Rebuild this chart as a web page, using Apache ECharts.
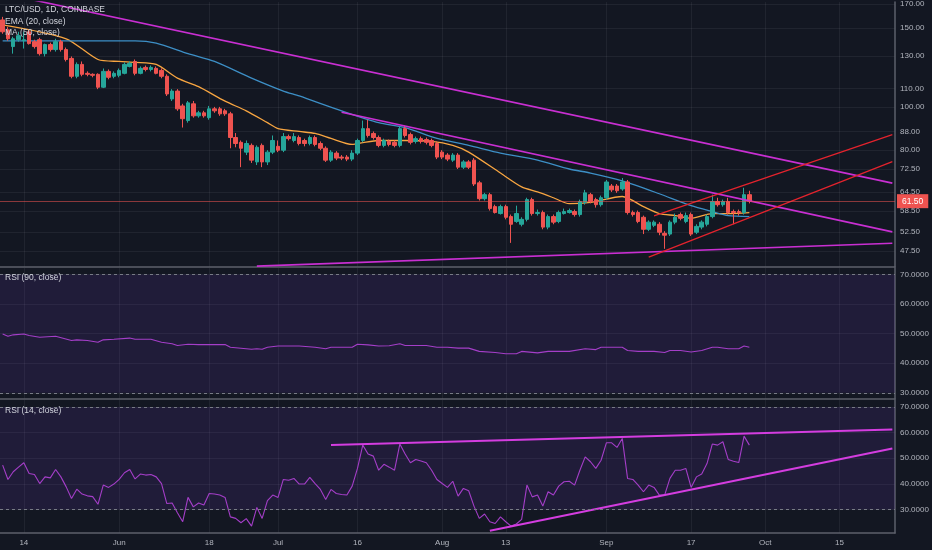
<!DOCTYPE html>
<html><head><meta charset="utf-8">
<script src="https://cdn.jsdelivr.net/npm/echarts@6/dist/echarts.min.js"></script>
<style>html,body{margin:0;padding:0;background:#131722}#c{width:932px;height:550px}</style>
</head><body><div id="c"></div>
<script>
// ---- data ----
const startDate = '2018-05-10';
const dayCount = 169;
const tickDates = ['2018-05-14','2018-06-01','2018-06-18','2018-07-01','2018-07-16','2018-08-01','2018-08-13','2018-09-01','2018-09-17','2018-10-01','2018-10-15'];
const tickNames = ['14','Jun','18','Jul','16','Aug','13','Sep','17','Oct','15'];
const priceTicks = [47.5,52.5,58.5,64.5,72.5,80,88,100,110,130,150,170];
const rsiTicks = [30,40,50,60,70];

const open = [156.6,148.8,136.5,141.4,140.7,147.3,140.0,141.4,131.6,137.9,
134.4,140.0,134.4,128.4,117.1,124.5,118.9,118.3,118.3,110.7,
120.1,117.1,117.7,118.9,123.2,126.4,118.9,122.6,121.3,122.0,
120.7,117.1,104.2,108.5,100.5,93.2,101.6,95.5,97.0,94.6,
99.0,99.0,98.0,96.5,85.4,83.3,79.2,82.0,75.3,82.0,
75.3,79.2,81.6,80.0,85.8,84.1,85.4,84.1,82.8,85.4,
82.8,80.8,76.0,78.8,77.2,77.2,76.4,78.8,84.1,89.4,
87.2,85.4,82.0,83.7,83.3,82.0,89.4,86.7,83.7,84.9,
84.5,84.1,82.8,79.2,78.0,76.0,78.0,73.3,75.3,76.0,
67.6,62.3,63.6,59.8,57.7,59.8,56.8,55.4,54.6,56.0,
62.0,57.7,58.0,53.8,56.8,55.4,57.7,58.0,58.3,57.4,
61.1,63.6,62.0,60.4,62.6,66.5,66.5,65.5,67.9,58.0,
58.0,56.6,53.2,54.3,54.6,52.1,51.9,55.2,57.4,55.4,
57.4,52.4,53.8,54.6,56.8,61.4,60.4,61.4,58.3,58.3,
58.0,63.6];
const close = [147.3,142.1,142.1,144.4,141.4,138.6,136.5,131.6,137.9,134.4,
140.0,134.4,127.7,117.1,124.5,118.3,118.3,117.7,110.7,120.1,
116.5,118.9,120.7,124.5,125.2,118.9,122.0,121.3,122.6,118.9,
117.1,106.9,108.5,99.0,94.1,102.1,95.5,97.0,95.5,99.0,
98.0,96.5,96.5,85.4,82.8,80.8,82.8,76.0,81.2,75.3,
79.2,84.1,80.0,85.8,84.9,85.8,82.8,82.8,85.4,82.4,
80.8,76.0,79.2,76.8,76.8,76.4,78.8,84.1,89.4,86.3,
85.4,82.0,84.1,82.4,82.0,89.4,86.3,83.3,84.9,83.7,
83.3,82.0,77.2,77.2,76.4,78.0,73.3,75.3,73.3,67.2,
62.3,63.6,59.2,58.0,59.8,56.6,54.6,57.7,56.0,62.0,
57.7,58.0,53.8,56.8,55.2,58.0,58.3,58.6,57.4,61.4,
64.2,61.4,60.4,62.6,67.9,65.2,64.9,67.9,58.0,57.4,
55.4,53.2,55.2,55.2,52.4,51.6,55.2,56.6,56.3,57.1,
51.9,54.0,55.2,56.8,61.4,60.4,61.4,58.0,58.0,58.0,
63.6,61.5];
const high = [159.1,151.1,143.6,147.3,147.3,148.8,141.4,142.8,138.6,139.3,
142.1,141.4,135.8,129.7,125.8,126.4,120.1,118.9,118.9,121.9,
121.3,120.1,121.9,125.8,126.4,127.7,123.2,123.8,123.8,123.2,
122.0,118.3,109.6,109.6,101.6,103.1,103.1,98.0,98.0,100.5,
100.0,100.0,99.0,97.5,87.4,84.1,84.1,82.8,82.0,82.8,
80.0,86.3,84.1,87.4,86.7,87.4,86.3,84.9,86.3,86.3,
83.7,81.6,80.0,79.6,78.0,78.0,80.0,84.9,93.2,93.6,
88.1,86.3,84.9,84.5,84.1,90.3,90.8,87.6,85.8,85.8,
85.4,84.9,83.7,80.0,78.8,78.8,78.8,76.0,76.0,76.8,
68.3,64.2,64.2,60.4,60.4,60.4,57.4,60.1,56.6,62.6,
62.6,58.9,58.6,57.4,57.4,58.6,59.2,59.2,58.9,62.0,
65.2,64.2,62.6,63.3,68.6,67.2,67.2,69.3,68.6,58.6,
58.6,57.1,55.7,55.7,55.2,52.7,55.7,57.7,58.0,58.0,
58.0,54.6,55.7,57.4,63.6,62.6,62.0,62.6,58.9,58.9,
65.9,64.9];
const low = [145.8,140.7,131.6,140.0,135.1,137.9,135.1,130.3,129.7,133.0,
133.0,133.0,126.4,115.9,115.9,117.1,117.1,116.5,109.6,110.2,
115.3,115.9,116.5,118.3,122.6,117.7,118.3,120.1,120.1,118.3,
115.9,105.8,103.1,98.0,89.9,92.2,94.6,94.6,94.6,93.6,
97.0,95.5,95.5,80.8,81.2,73.3,78.0,74.9,74.1,73.3,
74.1,78.4,79.2,79.2,84.1,83.3,82.0,81.6,82.0,81.6,
80.0,75.3,75.3,76.0,76.0,75.6,75.6,78.0,83.3,85.4,
84.5,81.2,81.2,81.6,81.2,81.2,85.4,82.4,82.8,82.8,
82.4,81.2,76.4,76.4,75.6,75.3,72.6,72.6,72.6,66.5,
61.7,61.7,58.6,57.7,57.4,56.0,49.6,55.0,54.0,55.4,
57.1,57.1,53.2,53.2,54.6,54.9,57.4,57.7,56.8,56.8,
60.4,60.8,59.5,59.8,62.0,64.5,64.2,64.9,57.4,56.8,
54.9,51.9,52.7,53.8,51.6,48.1,51.4,54.6,55.7,54.9,
51.4,51.9,53.2,54.0,56.3,59.8,59.8,57.4,54.6,57.1,
57.4,60.8];

const ema20 = [[0,152.6],[12,142.1],[18,127.7],[22,126.4],[25,125.8],[29,124.5],[33,116.0],[37,111.0],[42,103.0],[46,98.0],[50,92.2],[52,89.4],[56,88.1],[59,87.2],[62,85.0],[66,82.4],[68,83.2],[71,84.1],[76,84.1],[81,83.7],[85,82.0],[88,79.2],[94,71.1],[98,66.2],[101,64.5],[104,62.6],[107,60.7],[111,61.1],[117,63.0],[121,59.8],[124,57.7],[127,57.1],[130,56.3],[134,57.7],[137,57.7],[141,58.0]];
const ma50 = [[0,140.6],[9,140.6],[25,140.6],[29,138.9],[35,131.6],[40,126.4],[47,116.0],[53,108.5],[56,105.8],[64,98.0],[71,92.2],[76,89.9],[82,85.0],[88,82.0],[94,78.8],[101,76.0],[107,72.6],[111,71.1],[117,68.3],[124,63.9],[130,60.1],[134,58.3],[137,57.1],[141,56.8]];

const rsi90 = [[0,49.9],[1,49.1],[2,49.6],[4,49.9],[5,49.4],[7,48.8],[10,49.1],[13,47.7],[14,47.9],[16,47.7],[18,47.1],[19,47.9],[21,48.1],[24,48.5],[25,48.1],[28,48.1],[30,47.1],[32,46.6],[33,46.0],[35,46.4],[37,46.3],[40,46.3],[42,46.3],[43,45.4],[47,44.7],[48,44.9],[49,44.7],[50,45.4],[52,45.8],[56,45.8],[59,45.4],[61,44.9],[62,45.4],[66,45.4],[67,46.4],[69,46.2],[71,45.8],[73,45.9],[75,46.6],[76,46.0],[80,46.0],[82,45.4],[84,45.4],[86,45.1],[88,45.1],[90,44.0],[93,43.6],[95,43.2],[97,43.2],[98,44.0],[101,43.5],[103,44.0],[107,44.0],[110,44.9],[112,44.6],[113,45.4],[117,45.4],[118,44.3],[120,44.0],[123,44.0],[125,43.6],[126,44.3],[128,44.3],[130,43.8],[132,44.3],[134,45.4],[135,45.4],[137,44.9],[139,44.9],[140,45.8],[141,45.4]];

const rsi14 = [47.3,41.7,44.7,46.5,48.2,44.0,43.6,40.1,42.7,42.3,
45.6,42.7,38.8,34.3,37.9,36.0,35.3,35.0,32.0,39.5,
38.6,39.9,41.7,44.3,45.6,41.9,43.8,43.4,43.6,42.7,
40.1,32.3,32.5,28.7,25.2,34.7,31.0,32.5,31.7,36.2,
36.0,35.6,34.7,27.1,26.5,24.8,26.4,23.5,30.8,26.5,
33.4,35.6,34.7,41.7,41.4,42.1,39.9,39.9,42.5,40.1,
37.8,33.9,37.8,36.2,35.8,35.6,39.1,46.0,55.1,51.6,
50.8,45.3,47.6,46.5,45.3,55.5,51.6,48.2,49.5,48.9,
48.2,45.3,41.7,40.1,38.6,41.0,35.2,38.2,37.3,31.3,
26.5,28.2,25.2,24.5,27.1,25.2,23.5,24.3,26.1,39.5,
34.9,35.6,31.3,36.9,35.6,39.1,40.8,41.0,39.5,45.3,
50.5,48.6,46.0,49.2,56.0,56.0,54.2,57.7,42.1,41.7,
39.5,36.9,39.5,38.6,35.6,35.6,42.1,45.3,45.3,46.0,
38.6,42.7,43.8,47.9,55.5,55.1,56.4,49.5,48.8,48.3,
58.6,55.1];

// drawn trend lines (start/end point as [day index, value])
const lineTop = [[0,179.5],[168,67.5]];
const lineDesc = [[64,97.3],[168,52.5]];
const lineSupport = [[48,44.0],[168,49.5]];
const chanLow = [[122,46.1],[168,75.4]];
const chanUp = [[123,57.0],[168,86.7]];
const rsiUp = [[62,55.1],[168,61.2]];
const rsiLow = [[92,21.7],[168,53.8]];
const lastPrice = 61.5;

// ---- build ----
const cats = [];
const t0 = Date.parse(startDate + 'T00:00:00Z');
for (let i = 0; i < dayCount; i++) cats.push(new Date(t0 + i * 86400000).toISOString().slice(0, 10));
const candles = open.map((o, i) => [o, close[i], low[i], high[i]]);
const toCat = arr => arr.map(p => [cats[p[0]], p[1]]);
const isTick = (idx, val) => tickDates.indexOf(val) >= 0;

const FONT = 'Liberation Sans';
const txt = '#b2b5be';
const gridCol = 'rgba(255,255,255,0.06)';
const sepCol = '#5d606b';
const magenta = '#c92fd2';

function xAx(i, showLabel) {
  return {
    type: 'category', gridIndex: i, data: cats, boundaryGap: true,
    axisLine: { show: true, lineStyle: { color: sepCol, width: 1.5 } },
    axisTick: { show: false, interval: isTick, alignWithLabel: true },
    axisLabel: { show: showLabel, interval: isTick, color: txt, fontSize: 8, fontFamily: FONT, margin: 6,
      formatter: v => tickNames[tickDates.indexOf(v)] },
    splitLine: { show: true, interval: isTick, alignWithLabel: true, lineStyle: { color: gridCol, width: 1 } }
  };
}
function yRsi(i, mn, mx) {
  return {
    type: 'value', gridIndex: i, position: 'right', min: mn, max: mx,
    axisLine: { show: true, lineStyle: { color: sepCol, width: 1.5 } },
    axisTick: { show: false, customValues: rsiTicks },
    axisLabel: { customValues: rsiTicks, color: txt, fontSize: 8, fontFamily: FONT, margin: 5, formatter: v => v.toFixed(4) },
    splitLine: { show: true, lineStyle: { color: gridCol } }
  };
}
const band = {
  silent: true,
  itemStyle: { color: 'rgba(103,58,183,0.16)' },
  data: [[{ yAxis: 30 }, { yAxis: 70 }]]
};
const dashes = {
  silent: true, symbol: 'none',
  lineStyle: { type: [3, 3], color: '#787b86', width: 1 },
  label: { show: false },
  data: [{ yAxis: 30 }, { yAxis: 70 }]
};
function trend(data, xi, color, width) {
  return { type: 'line', xAxisIndex: xi, yAxisIndex: xi, data: toCat(data), symbol: 'none',
    lineStyle: { color: color, width: width }, silent: true, z: 4 };
}

const ttl = (text, top) => ({ text, left: 5, top, padding: 0,
  textStyle: { color: '#d1d4dc', fontSize: 8.5, fontWeight: 'normal', fontFamily: FONT } });

const chart = echarts.init(document.getElementById('c'), null, { renderer: 'canvas' });
chart.setOption({
  backgroundColor: '#131722',
  animation: false,
  title: [ttl('LTC/USD, 1D, COINBASE', 5.5), ttl('EMA (20, close)', 17), ttl('MA (50, close)', 28.5),
          ttl('RSI (90, close)', 273), ttl('RSI (14, close)', 406.5)],
  grid: [
    { left: 0, top: 0, width: 895, height: 267 },
    { left: 0, top: 268, width: 895, height: 131 },
    { left: 0, top: 400, width: 895, height: 133 }
  ],
  xAxis: [xAx(0, false), xAx(1, false), xAx(2, true)],
  yAxis: [
    { type: 'log', logBase: 10, gridIndex: 0, position: 'right', min: 43.8, max: 171.7,
      axisLine: { show: true, lineStyle: { color: sepCol, width: 1.5 } },
      axisTick: { show: false, customValues: priceTicks },
      axisLabel: { customValues: priceTicks, color: txt, fontSize: 8, fontFamily: FONT, margin: 5, formatter: v => (+v).toFixed(2) },
      splitLine: { show: true, lineStyle: { color: gridCol } } },
    yRsi(1, 27.9, 72.2),
    yRsi(2, 20.8, 72.7)
  ],
  series: [
    { type: 'candlestick', xAxisIndex: 0, yAxisIndex: 0, data: candles, barWidth: 4,
      itemStyle: { color: '#26a69a', color0: '#ef5350', borderColor: '#26a69a', borderColor0: '#ef5350', borderWidth: 1 },
      markLine: { silent: true, symbol: 'none', lineStyle: { color: 'rgba(239,83,80,0.55)', width: 1, type: 'solid' },
        label: { show: true, position: 'end', distance: 2, formatter: lastPrice.toFixed(2), color: '#fff',
          backgroundColor: '#ef5350', padding: [3, 5, 2, 5], fontSize: 8.5, fontFamily: FONT },
        data: [{ yAxis: lastPrice }] }, z: 3 },
    { type: 'line', xAxisIndex: 0, yAxisIndex: 0, data: toCat(ema20), symbol: 'none', smooth: 0.25,
      lineStyle: { color: '#f7a541', width: 1.3 }, z: 3 },
    { type: 'line', xAxisIndex: 0, yAxisIndex: 0, data: toCat(ma50), symbol: 'none', smooth: 0.25,
      lineStyle: { color: '#3d8fc6', width: 1.3 }, z: 3 },
    trend(lineTop, 0, magenta, 1.6),
    trend(lineDesc, 0, magenta, 1.6),
    trend(lineSupport, 0, magenta, 1.6),
    trend(chanLow, 0, '#e5232d', 1.2),
    trend(chanUp, 0, '#e5232d', 1.2),
    { type: 'line', xAxisIndex: 1, yAxisIndex: 1, data: toCat(rsi90), symbol: 'none',
      lineStyle: { color: '#a43ec8', width: 1.1 }, markArea: band, markLine: dashes, z: 3 },
    { type: 'line', xAxisIndex: 2, yAxisIndex: 2, data: rsi14.map((v, i) => [cats[i], v]), symbol: 'none',
      lineStyle: { color: '#a43ec8', width: 1.1 }, markArea: band, markLine: dashes, z: 3 },
    trend(rsiUp, 2, '#d43de0', 2),
    trend(rsiLow, 2, '#d43de0', 2)
  ]
});
</script></body></html>
